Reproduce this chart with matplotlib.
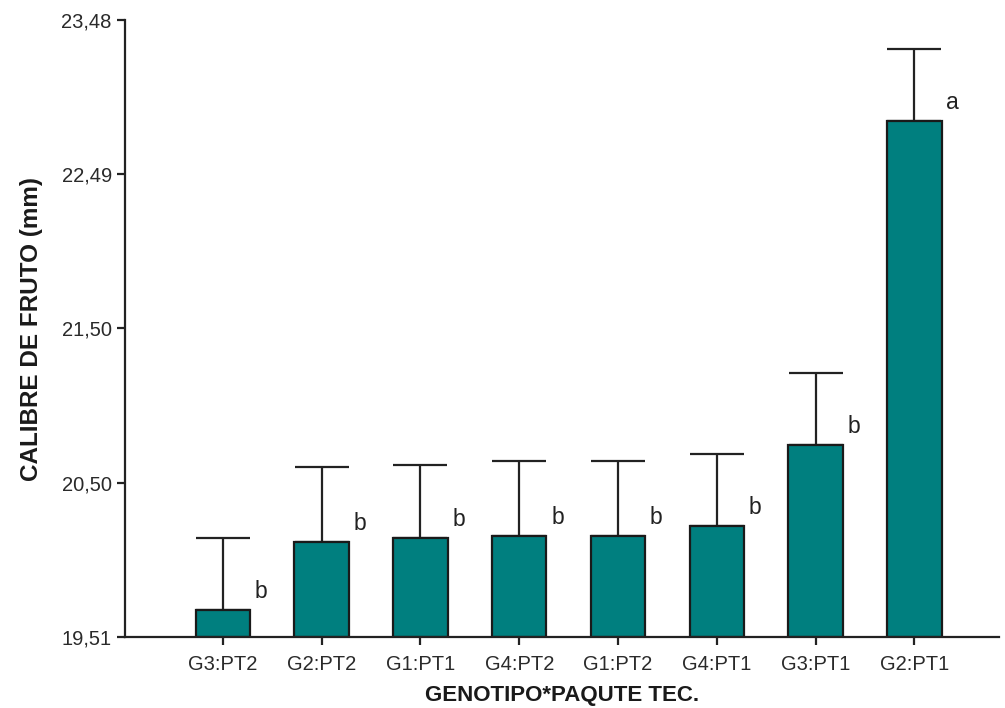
import matplotlib.pyplot as plt
import numpy as np

plt.rcParams['font.family'] = ['Liberation Sans', 'DejaVu Sans']

categorias = ['G3:PT2', 'G2:PT2', 'G1:PT1', 'G4:PT2', 'G1:PT2', 'G4:PT1', 'G3:PT1', 'G2:PT1']
medias = [19.684, 20.124, 20.149, 20.162, 20.162, 20.227, 20.744, 22.835]
errores = [0.465, 0.479, 0.467, 0.479, 0.479, 0.463, 0.464, 0.461]
letras = ['b', 'b', 'b', 'b', 'b', 'b', 'b', 'a']
yticks = [19.51, 20.50, 21.50, 22.49, 23.48]
ymin, ymax = 19.51, 23.48

fig = plt.figure(figsize=(10.05, 7.08), dpi=100)
ax = fig.add_axes([0.1244, 0.1003, 0.870, 0.871])

x = np.arange(len(categorias))
ax.bar(x, np.array(medias) - ymin, bottom=ymin, width=0.55, color='#007f7f',
       edgecolor='#1a1a1a', linewidth=1.6, zorder=2)
ax.errorbar(x, medias, yerr=[np.zeros(len(errores)), errores], fmt='none',
            ecolor='#222222', elinewidth=1.6, capsize=19.5, capthick=1.6, zorder=1)

for xi, m, l in zip(x, medias, letras):
    ax.annotate(l, (xi, m), xytext=(23, 5), textcoords='offset points',
                fontsize=16.5, color='#222222', ha='left', va='bottom')

ax.set_xlim(-0.99, 7.86)
ax.set_ylim(ymin, ymax)
ax.set_xticks(x)
ax.set_xticklabels(categorias, fontsize=14.5, color='#2a2a2a')
ax.set_yticks(yticks)
ax.set_yticklabels([f'{t:.2f}'.replace('.', ',') for t in yticks], fontsize=14.5, color='#2a2a2a')
ax.tick_params(direction='out', length=6, width=1.6, color='#222222')
ax.tick_params(axis='x', pad=7)
ax.spines['top'].set_visible(False)
ax.spines['right'].set_visible(False)
for s in ['left', 'bottom']:
    ax.spines[s].set_linewidth(1.6)
    ax.spines[s].set_color('#222222')

ax.set_xlabel('GENOTIPO*PAQUTE TEC.', fontsize=16, fontweight='bold', color='#1a1a1a', labelpad=8)
ax.set_ylabel('CALIBRE DE FRUTO (mm)', fontsize=17.5, fontweight='bold', color='#1a1a1a', labelpad=13)

fig.savefig('out.png', dpi=100)
